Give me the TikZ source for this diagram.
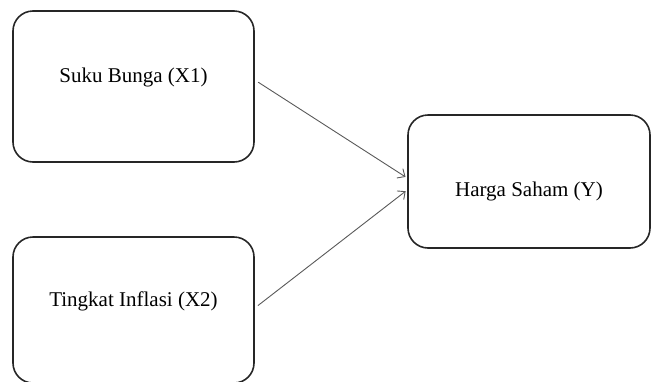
\documentclass[tikz,border=0pt]{standalone}
\usepackage{fontspec}
\setmainfont{Liberation Serif}
\usetikzlibrary{arrows.meta}

\tikzset{
    varbox/.style={draw=black!85, line width=1.6pt, rounded corners=20pt,
        inner sep=0pt, text height=16pt, text depth=25pt,
        font=\fontsize{21}{25}\selectfont},
    link/.style={draw=black!65, line width=0.9pt,
        -{Straight Barb[length=6pt,width=11pt,line width=0.9pt]}}
}

\begin{document}
\begin{tikzpicture}[x=1pt,y=-1pt]
\useasboundingbox (0,0) rectangle (651,381);
\node[varbox, minimum width=241pt, minimum height=151pt] (x1) at (133.5,86.5) {Suku Bunga (X1)};
\node[varbox, minimum width=241pt, minimum height=146pt, text depth=23pt] (x2) at (133.5,310) {Tingkat Inflasi (X2)};
\node[varbox, minimum width=242pt, minimum height=133pt, text height=30pt, text depth=0pt] (y) at (529,181.5) {Harga Saham (Y)};
\draw[link, shorten <=4pt, shorten >=2pt] ([yshift=6.5pt]x1.east) -- ([yshift=3.5pt]y.west);
\draw[link, shorten <=4pt, shorten >=2pt] ([yshift=2pt]x2.east) -- ([yshift=-8.5pt]y.west);
\end{tikzpicture}
\end{document}
